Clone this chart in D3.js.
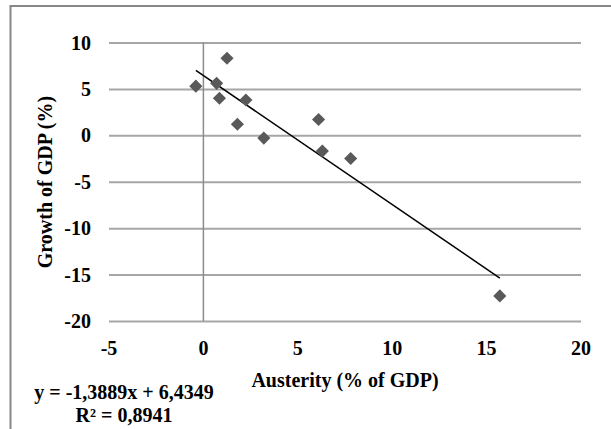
<!DOCTYPE html>
<html>
<head>
  <meta charset="UTF-8">
  <title>Austerity vs Growth of GDP</title>
  <script src="https://d3js.org/d3.v7.min.js"></script>
  <style>
    body { margin: 0; background: #fff; }
    text { font-family: "Liberation Serif", "Times New Roman", serif; font-weight: bold; fill: #000; }
  </style>
</head>
<body>
  <svg id="chart" width="611" height="429"></svg>
  <script>
    // data
    const austerity = [-0.4, 0.7, 0.85, 1.25, 1.8, 2.25, 3.2, 6.1, 6.3, 7.8, 15.7];
    const growth    = [5.3, 5.6, 4.0, 8.3, 1.2, 3.8, -0.3, 1.7, -1.7, -2.5, -17.3];
    const xTicks = [-5, 0, 5, 10, 15, 20];
    const yTicks = [10, 5, 0, -5, -10, -15, -20];
    const slope = -1.3889, intercept = 6.4349;
    const eqLabels = ["y = -1,3889x + 6,4349", "R² = 0,8941"];

    const svg = d3.select("#chart");

    // outer frame (left + top visible)
    svg.append("path")
      .attr("d", "M10.5,429 L10.5,6 L611,6")
      .attr("fill", "none")
      .attr("stroke", "#878787")
      .attr("stroke-width", 2);

    const x = d3.scaleLinear().domain([-5, 20]).range([109, 581]);
    const y = d3.scaleLinear().domain([-20, 10]).range([321, 42.5]);

    // horizontal gridlines
    svg.append("g")
      .attr("transform", `translate(${x(-5)},0)`)
      .call(d3.axisLeft(y).tickValues(yTicks).tickSize(-(x(20) - x(-5))).tickFormat(""))
      .call(g => g.select(".domain").remove())
      .call(g => g.selectAll("line").attr("stroke", "#a6a6a6").attr("stroke-width", 2));

    // vertical axis at x = 0
    svg.append("line")
      .attr("x1", x(0)).attr("x2", x(0))
      .attr("y1", y(10)).attr("y2", y(-20))
      .attr("stroke", "#8c8c8c").attr("stroke-width", 1.5);

    // y tick labels
    svg.append("g").selectAll("text")
      .data(yTicks).enter().append("text")
      .attr("x", 91)
      .attr("y", d => y(d) + 7)
      .attr("text-anchor", "end")
      .attr("font-size", 20)
      .text(d => d);

    // x tick labels
    svg.append("g").selectAll("text")
      .data(xTicks).enter().append("text")
      .attr("x", d => x(d))
      .attr("y", 355)
      .attr("text-anchor", "middle")
      .attr("font-size", 20)
      .text(d => d);

    // trend line
    const xs = d3.extent(austerity);
    svg.append("line")
      .attr("x1", x(xs[0])).attr("y1", y(slope * xs[0] + intercept))
      .attr("x2", x(xs[1])).attr("y2", y(slope * xs[1] + intercept))
      .attr("stroke", "#000").attr("stroke-width", 1.5);

    // points
    const diamond = d3.symbol().type(d3.symbolDiamond2).size(110);
    svg.append("g").selectAll("path")
      .data(austerity.map((v, i) => [v, growth[i]]))
      .enter().append("path")
      .attr("d", diamond)
      .attr("transform", d => `translate(${x(d[0])},${y(d[1])})`)
      .attr("fill", "#595959");

    // axis titles
    svg.append("text")
      .attr("x", 345).attr("y", 387)
      .attr("text-anchor", "middle")
      .attr("font-size", 20)
      .text("Austerity (% of GDP)");

    svg.append("text")
      .attr("transform", "translate(52,182) rotate(-90)")
      .attr("text-anchor", "middle")
      .attr("font-size", 20)
      .text("Growth of GDP (%)");

    // equation
    svg.append("g").selectAll("text")
      .data(eqLabels).enter().append("text")
      .attr("x", 124)
      .attr("y", (d, i) => 399 + i * 23)
      .attr("text-anchor", "middle")
      .attr("font-size", 20)
      .text(d => d);
  </script>
</body>
</html>
